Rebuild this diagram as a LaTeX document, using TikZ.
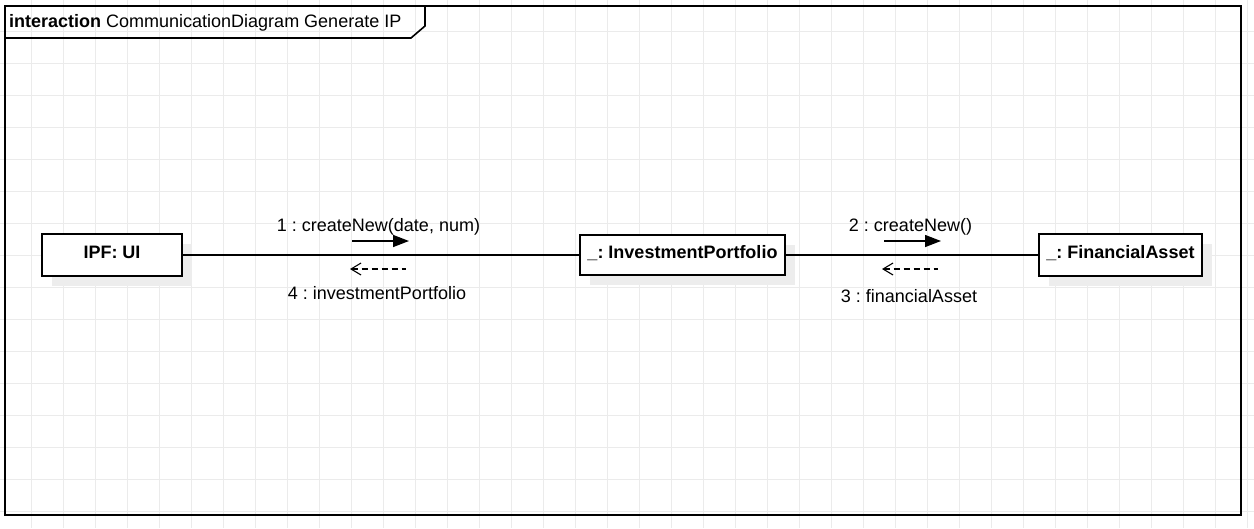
\documentclass[tikz,border=0pt]{standalone}
\usepackage{fontspec}
\setmainfont{Liberation Sans}
\usepackage{tikz}
\usetikzlibrary{positioning,arrows.meta,shadows}
\definecolor{gridgray}{HTML}{EBEBEB}
\definecolor{shadowgray}{HTML}{EDEDED}
\frenchspacing

\begin{document}
\begin{tikzpicture}[x=1pt,y=-1pt,
    font=\fontsize{18}{21}\selectfont,
    obj/.style={draw, line width=1.6pt, fill=white, font=\fontsize{18}{21}\selectfont\bfseries,
        text height=12.5pt, text depth=5.5pt,
        general shadow={fill=shadowgray, shadow xshift=10pt, shadow yshift=-10pt}},
    link/.style={line width=1.6pt},
    msg/.style={inner sep=0pt, anchor=base},
    call/.style={line width=1.4pt, -{Triangle[length=16pt,width=12pt]}},
    reply/.style={line width=1.1pt, dash pattern=on 6pt off 4pt, {Straight Barb[length=10pt,width=12pt,line width=1.1pt]}-}]
    \useasboundingbox (0,0) rectangle (1254,528);
    \fill[white] (0,0) rectangle (1254,528);
    % Background grid
    \foreach \gx in {31,63,...,1247} {
        \draw[gridgray, line width=1pt] (\gx,0) -- (\gx,528);
    }
    \foreach \gy in {31,63,...,511} {
        \draw[gridgray, line width=1pt] (0,\gy) -- (1254,\gy);
    }
    % Frame with its tab
    \draw[line width=1.6pt] (5,6) rectangle (1241,515);
    \draw[line width=1.6pt] (5,38) -- (411,38) -- (425,26) -- (425,6);
    \node[msg, anchor=base west] (frame) at (9,27.5) {\textbf{interaction} CommunicationDiagram Generate IP};
    % Objects
    \node[obj, minimum width=140pt, minimum height=42pt] (ui) at (112,255) {IPF: UI};
    \node[obj, minimum width=205pt, minimum height=40pt] (portfolio) at (682.5,255) {\_: InvestmentPortfolio};
    \node[obj, minimum width=163pt, minimum height=42pt] (asset) at (1120.5,255) {\_: FinancialAsset};
    \draw[link] (ui) -- (portfolio);
    \draw[link] (portfolio) -- (asset);
    % Messages between ui and portfolio
    \node[msg] (create1) at (378.5,231.5) {1 : createNew(date, num)};
    \node[msg] (return4) at (377,299) {4 : investmentPortfolio};
    \coordinate (c1s) at (352,241);
    \coordinate (c1e) at (409,241);
    \coordinate (r4s) at (350,269);
    \coordinate (r4e) at (406,269);
    \draw[call] (c1s) -- (c1e);
    \draw[reply] (r4s) -- (r4e);
    % Messages between portfolio and asset
    \node[msg] (create2) at (910.5,231) {2 : createNew()};
    \node[msg] (return3) at (909,302) {3 : financialAsset};
    \coordinate (c2s) at (884,241);
    \coordinate (c2e) at (941,241);
    \coordinate (r3s) at (882,269);
    \coordinate (r3e) at (938,269);
    \draw[call] (c2s) -- (c2e);
    \draw[reply] (r3s) -- (r3e);
\end{tikzpicture}
\end{document}
